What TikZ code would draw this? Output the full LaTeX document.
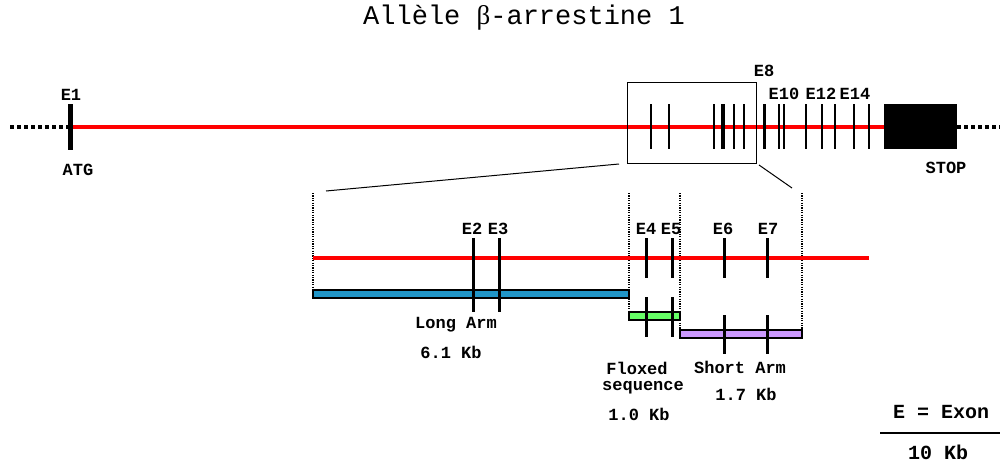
\documentclass[tikz,border=0pt]{standalone}
\usepackage{fontspec}
\setmonofont{Liberation Mono}
\newfontfamily\greekfont{Liberation Serif}
\definecolor{genered}{RGB}{255,0,0}
\definecolor{longblue}{RGB}{33,150,200}
\definecolor{floxgreen}{RGB}{102,255,102}
\definecolor{shortlilac}{RGB}{204,153,255}

\begin{document}
\begin{tikzpicture}[x=1pt,y=-1pt]
  \tikzstyle{tag} = [font=\ttfamily\bfseries\fontsize{17}{18}\selectfont, inner sep=0pt];
  \tikzstyle{bigtag} = [font=\ttfamily\bfseries\fontsize{20}{22}\selectfont, inner sep=0pt];
  \tikzstyle{gene} = [genered, line width=4pt];
  \tikzstyle{flank} = [line width=4pt, dash pattern=on 4pt off 3pt];
  \tikzstyle{guide} = [line width=1.3pt, dash pattern=on 1.2pt off 1.2pt];
  \tikzstyle{exon} = [line width=1.5pt];
  \tikzstyle{arm} = [draw, line width=1.2pt];

  \useasboundingbox (0,0) rectangle (1006,463);

  \node[font=\ttfamily\fontsize{27}{29}\selectfont, inner sep=0pt] (title) at (524,18)
    {Allèle {\greekfont β}-arrestine 1};

  % whole allele
  \coordinate (lend) at (10,127);
  \coordinate (atg) at (70,127);
  \coordinate (stop) at (885,127);
  \coordinate (rend) at (1000,127);
  \draw[flank] (lend) -- (atg);
  \draw[gene] (atg) -- (stop);
  \draw[flank] (957,127) -- (rend);
  \draw[line width=5pt] (70,104) -- (70,150);
  \fill (884,104) rectangle (957,149);
  \foreach \x in {651,669,714,734,744,779,784,806,822,835,854,869}
    \draw[exon] (\x,104) -- (\x,149);
  \draw[line width=4pt] (723,104) -- (723,149);
  \draw[line width=3pt] (764,104) -- (764,149);

  \node[tag] (e1) at (71,95) {E1};
  \node[tag] (atgl) at (78,170) {ATG};
  \node[tag] (e8) at (764,71) {E8};
  \node[tag] (e10) at (784,94) {E10};
  \node[tag] (e12) at (821,94) {E12};
  \node[tag] (e14) at (855,94) {E14};
  \node[tag] (stopl) at (946,168) {STOP};

  % zoom window
  \node[draw, line width=1pt, minimum width=129, minimum height=81, inner sep=0pt] (zoombox) at (691.5,122.5) {};
  \coordinate (zla) at (619,164);
  \coordinate (zlb) at (326,191);
  \coordinate (zra) at (759,165);
  \coordinate (zrb) at (792,188);
  \draw[line width=1pt] (zla) -- (zlb);
  \draw[line width=1pt] (zra) -- (zrb);

  % targeted region
  \coordinate (ga) at (313,258);
  \coordinate (gb) at (869,258);
  \foreach \x/\b in {313/297,629/318,680/337,802/337}
    \draw[guide] (\x,193) -- (\x,\b);
  \draw[gene] (ga) -- (gb);
  \filldraw[arm, fill=longblue] (313,290) rectangle (629,298);
  \filldraw[arm, fill=floxgreen] (629,312) rectangle (680,320);
  \filldraw[arm, fill=shortlilac] (680,330) rectangle (802,338);

  \foreach \x in {473,499}
    \draw[line width=3pt] (\x,238) -- (\x,312);
  \foreach \x in {646,672}
    \draw[line width=3pt] (\x,238) -- (\x,278) (\x,297) -- (\x,337);
  \foreach \x in {724,767}
    \draw[line width=3pt] (\x,238) -- (\x,278) (\x,315) -- (\x,354);

  \node[tag] (e2) at (472,229) {E2};
  \node[tag] (e3) at (498,229) {E3};
  \node[tag] (e4) at (646,229) {E4};
  \node[tag] (e5) at (671,229) {E5};
  \node[tag] (e6) at (723,229) {E6};
  \node[tag] (e7) at (768,229) {E7};

  \node[tag] (longl) at (456,325) {Long Arm};
  \node[tag] (longkb) at (451,352) {6.1 Kb};
  \node[tag] (floxl) at (637,368) {Floxed};
  \node[tag] (floxs) at (643,388) {sequence};
  \node[tag] (floxkb) at (639,414) {1.0 Kb};
  \node[tag] (shortl) at (740,367) {Short Arm};
  \node[tag] (shortkb) at (746,394) {1.7 Kb};

  % legend
  \node[bigtag] (legend) at (941,412) {E = Exon};
  \coordinate (sa) at (880,433);
  \coordinate (sb) at (1000,433);
  \draw[line width=1.5pt] (sa) -- (sb);
  \node[bigtag] (scale) at (938,452) {10 Kb};
\end{tikzpicture}
\end{document}
